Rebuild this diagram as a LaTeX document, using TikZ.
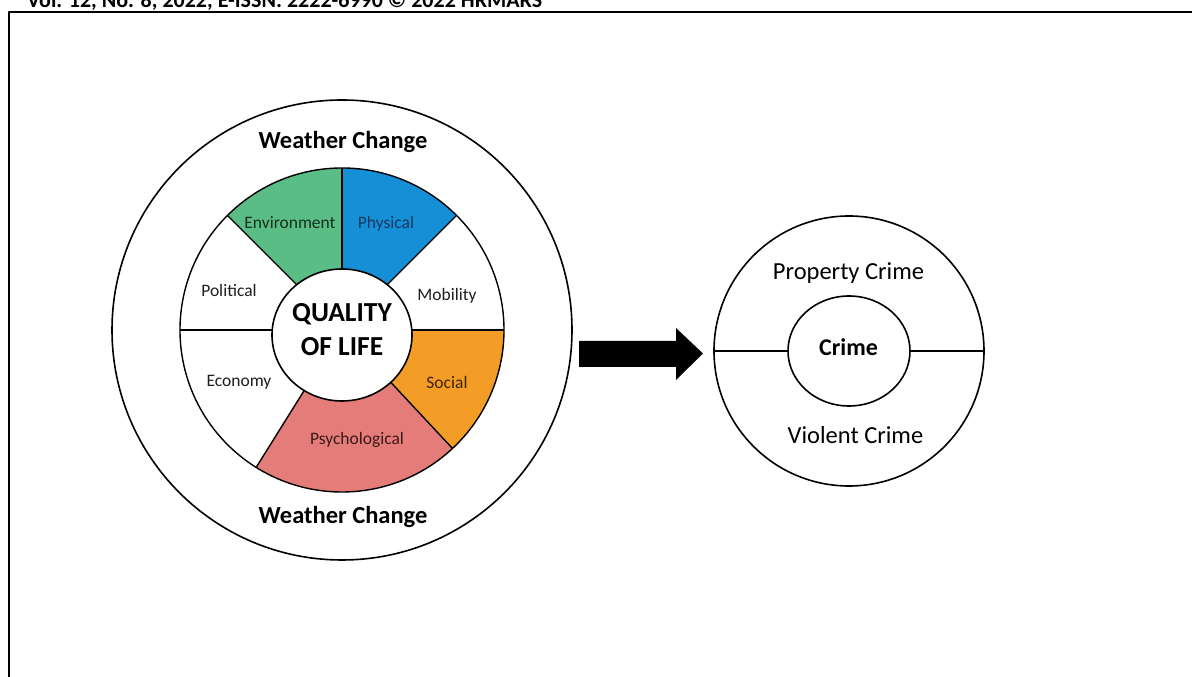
\documentclass[tikz,border=0pt]{standalone}
\usepackage{fontspec}
\setmainfont{Carlito}
\usetikzlibrary{shapes.geometric}
\definecolor{envgreen}{RGB}{91,189,134}
\definecolor{physblue}{RGB}{21,144,214}
\definecolor{socorange}{RGB}{243,157,38}
\definecolor{psypink}{RGB}{228,125,121}
\definecolor{envtext}{RGB}{20,50,30}
\definecolor{phystext}{RGB}{25,55,95}
\definecolor{soctext}{RGB}{60,35,10}
\definecolor{psytext}{RGB}{60,25,25}
\definecolor{plaintext}{RGB}{30,30,30}
\newcommand\fsz[1]{\fontsize{#1}{#1}\selectfont}
\begin{document}
\begin{tikzpicture}[x=1pt,y=1pt,line join=round,
  ring/.style={line width=1.6pt,draw=black},
  segline/.style={line width=1.4pt,draw=black},
  seglabel/.style={anchor=base,inner sep=0pt,font=\fsz{17.5}},
  bigbold/.style={anchor=base,inner sep=0pt,font=\bfseries\fsz{24.5}},
  crimelabel/.style={anchor=base,inner sep=0pt,font=\fsz{24.5}}]
\useasboundingbox (0,0) rectangle (1192,677);
\fill[white] (0,0) rectangle (1192,677);
% header (cut at the top of the page, as in the reference)
\begin{scope}
\clip (0,0) rectangle (1192,677);
\node[anchor=base west,inner sep=0pt,font=\bfseries\fsz{22}] (hdr) at (27,669.3)
  {Vol. 12, No. 8, 2022, E-ISSN: 2222-6990 © 2022 HRMARS};
\end{scope}
% frame
\draw[line width=1.5pt] (9,0) -- (9,665) -- (1192,665);
% ---------- quality of life wheel ----------
\coordinate (C) at (342,347);
\draw[ring] (C) circle[radius=230];
\fill[envgreen] (C) -- ++(90:162) arc[start angle=90,end angle=135,radius=162] -- cycle;
\fill[physblue] (C) -- ++(45:162) arc[start angle=45,end angle=90,radius=162] -- cycle;
\fill[socorange] (C) -- ++(-47:162) arc[start angle=-47,end angle=0,radius=162] -- cycle;
\fill[psypink] (C) -- ++(-122:162) arc[start angle=-122,end angle=-47,radius=162] -- cycle;
\foreach \a in {135,90,45,0,-47,-122,180}
  \draw[segline] (C) -- ++(\a:162);
\draw[segline] (C) circle[radius=162];
\node[ellipse,draw,line width=1.6pt,fill=white,minimum width=140pt,minimum height=132pt,inner sep=0pt] (qol) at (342,342) {};
\node[bigbold,font=\bfseries\fsz{27.5}] (q1) at (342,355.3) {QUALITY};
\node[bigbold,font=\bfseries\fsz{27.5}] (q2) at (342,321.3) {OF LIFE};
\node[seglabel,text=envtext] (env) at (290,448) {Environment};
\node[seglabel,text=phystext] (phys) at (386,448) {Physical};
\node[seglabel,text=plaintext] (pol) at (229,380.7) {Political};
\node[seglabel,text=plaintext] (mob) at (447,376.4) {Mobility};
\node[seglabel,text=plaintext] (eco) at (239,290.4) {Economy};
\node[seglabel,text=soctext] (soc) at (447,288.7) {Social};
\node[seglabel,text=psytext] (psy) at (357,232.4) {Psychological};
\node[bigbold] (wc1) at (343,528.7) {Weather Change};
\node[bigbold] (wc2) at (343,153.7) {Weather Change};
% ---------- arrow ----------
\coordinate (a1) at (579,336);
\coordinate (a2) at (676,336);
\coordinate (a3) at (676,349);
\coordinate (tip) at (703,323.5);
\coordinate (a5) at (676,297);
\coordinate (a6) at (676,310);
\coordinate (a7) at (579,310);
\fill[black] (a1) -- (a2) -- (a3) -- (tip) -- (a5) -- (a6) -- (a7) -- cycle;
% ---------- crime circle ----------
\node[circle,draw,line width=1.6pt,minimum size=270pt,inner sep=0pt] (crimeouter) at (849,326) {};
\node[ellipse,draw,line width=1.6pt,minimum width=122pt,minimum height=110pt,inner sep=0pt] (crimeinner) at (849,326) {};
\draw[segline] (crimeouter.west) -- (crimeinner.west);
\draw[segline] (crimeinner.east) -- (crimeouter.east);
\node[crimelabel] (prop) at (848.5,397.7) {Property Crime};
\node[crimelabel] (viol) at (855.5,233.7) {Violent Crime};
\node[anchor=base,inner sep=0pt,font=\bfseries\fsz{24}] (crime) at (848.5,321) {Crime};
\end{tikzpicture}
\end{document}
